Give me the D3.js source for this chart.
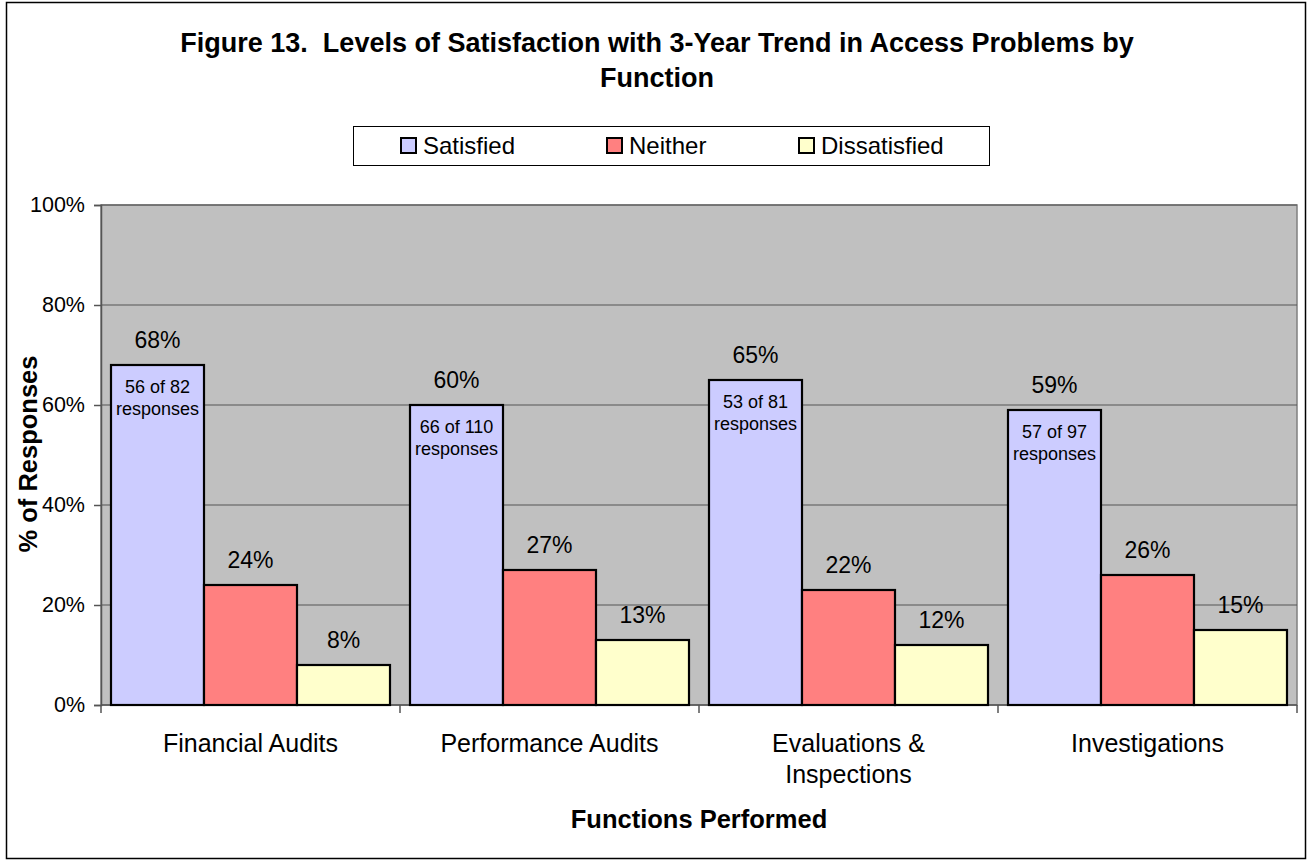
<!DOCTYPE html>
<html>
<head>
<meta charset="utf-8">
<script src="https://cdn.jsdelivr.net/npm/d3@7"></script>
<style>
  html, body { margin: 0; padding: 0; background: #fff; }
  svg { display: block; font-family: Arial, "Liberation Sans", sans-serif; }
</style>
</head>
<body>
<svg id="chart" width="1310" height="861"></svg>
<script>
const categories = [["Financial Audits"], ["Performance Audits"], ["Evaluations &", "Inspections"], ["Investigations"]];
const categoryKeys = ["Financial Audits", "Performance Audits", "Evaluations & Inspections", "Investigations"];
const seriesNames = ["Satisfied", "Neither", "Dissatisfied"];
const satisfied = [68, 60, 65, 59];
const neither = [24, 27, 23, 26];
const dissatisfied = [8, 13, 12, 15];
const satisfiedLabels = ["68%", "60%", "65%", "59%"];
const neitherLabels = ["24%", "27%", "22%", "26%"];
const dissatisfiedLabels = ["8%", "13%", "12%", "15%"];
const responseNotes = [["56 of 82", "responses"], ["66 of 110", "responses"], ["53 of 81", "responses"], ["57 of 97", "responses"]];
const yTicks = [0, 20, 40, 60, 80, 100];
const colors = ["#CCCCFF", "#FF8080", "#FFFFCC"];

const seriesValues = [satisfied, neither, dissatisfied];
const seriesLabels = [satisfiedLabels, neitherLabels, dissatisfiedLabels];

const svg = d3.select("#chart");
const FONT = "Arial, 'Liberation Sans', sans-serif";

// outer border
svg.append("rect").attr("x", 6.5).attr("y", 2.5).attr("width", 1299).attr("height", 856)
  .attr("fill", "#fff").attr("stroke", "#000").attr("stroke-width", 1.5);

const plot = { left: 101, right: 1297, top: 205, bottom: 705 };

const x0 = d3.scaleBand().domain(categoryKeys).range([plot.left, plot.right]).paddingInner(0).paddingOuter(0);
const groupPad = 10;
const x1 = d3.scaleBand().domain(seriesNames).range([groupPad, x0.bandwidth() - groupPad]).padding(0);
const y = d3.scaleLinear().domain([0, 100]).range([plot.bottom, plot.top]);

// plot background
svg.append("rect").attr("x", plot.left).attr("y", plot.top)
  .attr("width", plot.right - plot.left).attr("height", plot.bottom - plot.top)
  .attr("fill", "#C0C0C0").attr("stroke", "#808080").attr("stroke-width", 1.5);

// gridlines
svg.append("g").selectAll("line").data(yTicks.filter(t => t > 0)).join("line")
  .attr("x1", plot.left).attr("x2", plot.right)
  .attr("y1", d => y(d)).attr("y2", d => y(d))
  .attr("stroke", "#555").attr("stroke-width", 1.2);

// y axis
const yAxis = d3.axisLeft(y).tickValues(yTicks).tickFormat(d => d + "%").tickSize(7).tickPadding(9);
const gy = svg.append("g").attr("transform", `translate(${plot.left},0)`).call(yAxis);
gy.select(".domain").attr("stroke", "#555").attr("stroke-width", 1.5);
gy.selectAll(".tick line").attr("stroke", "#555").attr("stroke-width", 1.5);
gy.selectAll(".tick text").attr("font-size", 21.5).attr("fill", "#000").attr("font-family", FONT);

// x axis line and ticks at category boundaries
const boundaries = categoryKeys.map(k => x0(k)).concat([plot.right]);
svg.append("line").attr("x1", plot.left).attr("x2", plot.right).attr("y1", plot.bottom).attr("y2", plot.bottom)
  .attr("stroke", "#555").attr("stroke-width", 1.5);
svg.append("g").selectAll("line").data(boundaries).join("line")
  .attr("x1", d => d).attr("x2", d => d).attr("y1", plot.bottom).attr("y2", plot.bottom + 8)
  .attr("stroke", "#555").attr("stroke-width", 1.5);

// bars
const groups = svg.append("g").selectAll("g").data(categoryKeys).join("g")
  .attr("transform", d => `translate(${x0(d)},0)`);

groups.each(function(cat, ci) {
  const g = d3.select(this);
  seriesNames.forEach((s, si) => {
    const v = seriesValues[si][ci];
    g.append("rect")
      .attr("x", x1(s)).attr("y", y(v))
      .attr("width", x1.bandwidth()).attr("height", y(0) - y(v))
      .attr("fill", colors[si]).attr("stroke", "#000").attr("stroke-width", 2.2);
    g.append("text")
      .attr("x", x1(s) + x1.bandwidth() / 2).attr("y", y(v) - 17)
      .attr("text-anchor", "middle").attr("font-size", 23).attr("fill", "#000")
      .text(seriesLabels[si][ci]);
  });
  // response notes inside satisfied bar
  const sv = satisfied[ci];
  responseNotes[ci].forEach((line, li) => {
    g.append("text")
      .attr("x", x1("Satisfied") + x1.bandwidth() / 2).attr("y", y(sv) + 28 + li * 22)
      .attr("text-anchor", "middle").attr("font-size", 18).attr("fill", "#000")
      .text(line);
  });
});

// category labels
svg.append("g").selectAll("text").data(categories).join("text")
  .attr("x", (d, i) => x0(categoryKeys[i]) + x0.bandwidth() / 2)
  .attr("y", 752)
  .attr("text-anchor", "middle").attr("font-size", 25).attr("fill", "#000")
  .each(function(lines) {
    const t = d3.select(this);
    lines.forEach((l, li) => {
      t.append("tspan").attr("x", t.attr("x")).attr("dy", li === 0 ? 0 : 31).text(l);
    });
  });

// axis titles
svg.append("text").attr("x", (plot.left + plot.right) / 2).attr("y", 828)
  .attr("text-anchor", "middle").attr("font-size", 25.5).attr("font-weight", "bold")
  .text("Functions Performed");
svg.append("text").attr("transform", `translate(37,454) rotate(-90)`)
  .attr("text-anchor", "middle").attr("font-size", 25.5).attr("font-weight", "bold")
  .text("% of Responses");

// title
const titleLines = ["Figure 13.  Levels of Satisfaction with 3-Year Trend in Access Problems by", "Function"];
svg.append("text").attr("x", 657).attr("y", 52)
  .attr("text-anchor", "middle").attr("font-size", 27).attr("font-weight", "bold")
  .attr("xml:space", "preserve").style("white-space", "pre")
  .selectAll("tspan").data(titleLines).join("tspan")
  .attr("x", 657).attr("dy", (d, i) => i === 0 ? 0 : 35).text(d => d);

// legend
const legend = svg.append("g");
legend.append("rect").attr("x", 353.5).attr("y", 126.5).attr("width", 636).attr("height", 39)
  .attr("fill", "#fff").attr("stroke", "#000").attr("stroke-width", 1);
const legendX = [401, 607, 799];
seriesNames.forEach((s, i) => {
  legend.append("rect").attr("x", legendX[i]).attr("y", 138).attr("width", 15).attr("height", 15)
    .attr("fill", colors[i]).attr("stroke", "#000").attr("stroke-width", 2);
  legend.append("text").attr("x", legendX[i] + 22).attr("y", 153.5)
    .attr("font-size", 24).attr("fill", "#000").text(s);
});
</script>
</body>
</html>
